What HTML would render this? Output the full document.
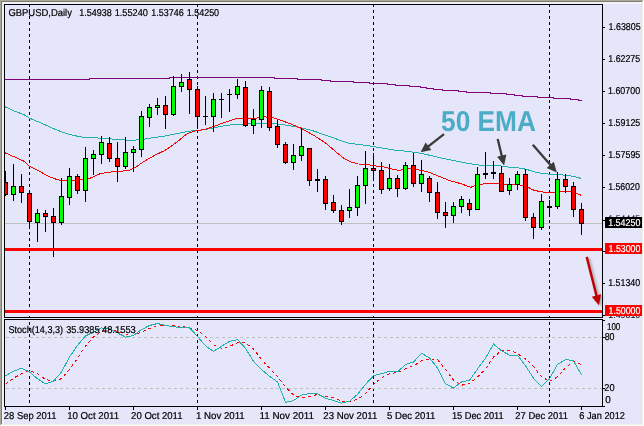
<!DOCTYPE html>
<html><head><meta charset="utf-8"><title>GBPUSD Daily</title>
<style>html,body{margin:0;padding:0;background:#e6e6fa;}body{width:644px;height:426px;overflow:hidden;position:relative;font-family:"Liberation Sans",sans-serif;}</style></head>
<body>
<svg width="644" height="426" viewBox="0 0 644 426" style="position:absolute;left:0;top:0;will-change:transform">
<rect x="0" y="0" width="644" height="426" fill="#e6e6fa"/>
<g shape-rendering="crispEdges">
<rect x="2" y="2" width="640" height="2" fill="#f2f2fd"/>
<rect x="2" y="2" width="2" height="422" fill="#f2f2fd"/>
<rect x="0" y="0" width="644" height="1" fill="#aca899"/>
<rect x="0" y="1" width="643" height="1" fill="#7d7b69"/>
<rect x="0" y="0" width="1" height="425" fill="#aca899"/>
<rect x="1" y="1" width="1" height="423" fill="#7d7b69"/>
<rect x="642" y="1" width="1" height="424" fill="#f1efe2"/>
<rect x="643" y="0" width="1" height="426" fill="#ffffff"/>
<rect x="1" y="424" width="642" height="1" fill="#f1efe2"/>
<rect x="0" y="425" width="644" height="1" fill="#ffffff"/>
<rect x="4.5" y="4.5" width="598" height="313" fill="none" stroke="#000" stroke-width="1"/>
<rect x="4.5" y="319.5" width="598" height="87" fill="none" stroke="#000" stroke-width="1"/>
<rect x="603" y="27" width="2" height="1" fill="#000"/>
<rect x="603" y="59" width="2" height="1" fill="#000"/>
<rect x="603" y="91" width="2" height="1" fill="#000"/>
<rect x="603" y="123" width="2" height="1" fill="#000"/>
<rect x="603" y="155" width="2" height="1" fill="#000"/>
<rect x="603" y="187" width="2" height="1" fill="#000"/>
<rect x="603" y="220" width="2" height="1" fill="#000"/>
<rect x="603" y="251" width="2" height="1" fill="#000"/>
<rect x="603" y="283" width="2" height="1" fill="#000"/>
<rect x="603" y="315" width="2" height="1" fill="#000"/>
<rect x="603" y="320" width="2" height="1" fill="#000"/>
<rect x="603" y="337" width="2" height="1" fill="#000"/>
<rect x="603" y="388" width="2" height="1" fill="#000"/>
<rect x="603" y="406" width="2" height="1" fill="#000"/>
<rect x="5" y="407" width="1" height="3" fill="#000"/>
<rect x="69" y="407" width="1" height="3" fill="#000"/>
<rect x="133" y="407" width="1" height="3" fill="#000"/>
<rect x="197" y="407" width="1" height="3" fill="#000"/>
<rect x="261" y="407" width="1" height="3" fill="#000"/>
<rect x="325" y="407" width="1" height="3" fill="#000"/>
<rect x="389" y="407" width="1" height="3" fill="#000"/>
<rect x="453" y="407" width="1" height="3" fill="#000"/>
<rect x="517" y="407" width="1" height="3" fill="#000"/>
<rect x="581" y="407" width="1" height="3" fill="#000"/>
<line x1="29.5" y1="5" x2="29.5" y2="317" stroke="#000" stroke-width="1" stroke-dasharray="3,3" stroke-dashoffset="1"/>
<line x1="29.5" y1="320" x2="29.5" y2="406" stroke="#000" stroke-width="1" stroke-dasharray="3,3" stroke-dashoffset="4"/>
<line x1="197.5" y1="5" x2="197.5" y2="317" stroke="#000" stroke-width="1" stroke-dasharray="3,3" stroke-dashoffset="1"/>
<line x1="197.5" y1="320" x2="197.5" y2="406" stroke="#000" stroke-width="1" stroke-dasharray="3,3" stroke-dashoffset="4"/>
<line x1="373.5" y1="5" x2="373.5" y2="317" stroke="#000" stroke-width="1" stroke-dasharray="3,3" stroke-dashoffset="1"/>
<line x1="373.5" y1="320" x2="373.5" y2="406" stroke="#000" stroke-width="1" stroke-dasharray="3,3" stroke-dashoffset="4"/>
<line x1="549.5" y1="5" x2="549.5" y2="317" stroke="#000" stroke-width="1" stroke-dasharray="3,3" stroke-dashoffset="1"/>
<line x1="549.5" y1="320" x2="549.5" y2="406" stroke="#000" stroke-width="1" stroke-dasharray="3,3" stroke-dashoffset="4"/>
<line x1="5" y1="337.5" x2="602" y2="337.5" stroke="#c0c0c0" stroke-width="1" stroke-dasharray="3,3" stroke-dashoffset="5"/>
<line x1="5" y1="388.5" x2="602" y2="388.5" stroke="#c0c0c0" stroke-width="1" stroke-dasharray="3,3" stroke-dashoffset="5"/>
<rect x="5" y="223" width="597" height="1" fill="#c0c0c0"/>
</g>
<g shape-rendering="crispEdges">
<polyline points="5.0,79.5 89.0,79.5 89.0,78.5 169.0,78.5 169.0,77.5 274.0,77.5 274.0,78.5 297.0,78.5 297.0,79.5 321.0,79.5 321.0,80.5 330.0,80.5 330.0,81.5 353.0,81.5 353.0,82.5 369.0,82.5 369.0,83.5 387.0,83.5 387.0,84.5 395.0,84.5 395.0,85.5 409.0,85.5 409.0,86.5 420.0,86.5 420.0,87.5 426.0,87.5 426.0,88.5 433.0,88.5 433.0,89.5 442.0,89.5 442.0,90.5 458.0,90.5 458.0,91.5 466.0,91.5 466.0,92.5 490.0,92.5 490.0,93.5 506.0,93.5 506.0,94.5 514.0,94.5 514.0,95.5 522.0,95.5 522.0,96.5 537.0,96.5 537.0,97.5 553.0,97.5 553.0,98.5 570.0,98.5 570.0,99.5 578.0,99.5 578.0,100.5 582.0,100.5" fill="none" stroke="#800080" stroke-width="1" />
<polyline points="5.3,106.9 14.3,111.1 23.8,114.6 29.6,118.2 37.9,121.7 47.2,125.7 56.6,129.9 66.0,133.4 75.3,135.8 85.3,137.5 100.3,138.1 115.3,139.3 130.3,140.3 140.3,139.8 150.3,138.1 164.8,136.1 177.3,133.6 189.7,131.1 200.3,130.3 212.0,128.2 223.8,125.8 235.5,124.2 247.3,123.9 259.0,123.5 270.7,123.5 280.1,124.2 289.5,125.8 300.3,127.5 313.8,131.1 325.5,135.1 337.3,139.3 349.0,143.3 360.7,144.7 372.5,146.4 384.2,148.3 392.0,149.8 403.8,151.0 415.5,152.4 427.3,154.7 439.0,157.6 450.7,159.9 462.5,162.3 474.2,164.4 480.3,165.2 489.1,165.7 498.5,165.7 507.9,167.0 517.2,167.6 526.6,169.4 536.0,172.3 545.4,173.8 554.8,174.5 564.2,175.1 573.6,176.4 581.3,178.5" fill="none" stroke="#20b2aa" stroke-width="1" />
<polyline points="5.3,152.9 14.4,156.9 23.8,161.1 29.6,166.3 37.9,170.3 47.2,175.7 54.3,178.7 61.3,180.6 68.3,180.6 80.2,180.0 90.2,178.2 100.1,173.7 110.1,172.1 120.0,171.4 130.0,170.1 134.9,167.7 144.9,160.9 154.8,155.2 164.8,150.5 172.3,145.5 179.7,139.8 187.2,133.6 194.6,131.1 204.6,129.4 212.0,127.0 223.8,122.8 235.5,118.8 243.7,118.1 256.6,118.1 264.9,116.9 273.1,117.6 280.1,120.0 289.5,123.5 300.3,127.9 313.8,135.4 325.5,142.9 337.3,153.0 344.3,158.6 351.3,162.1 358.4,164.0 367.8,164.5 374.8,165.9 384.2,167.0 389.7,168.6 399.1,170.5 406.1,168.6 415.5,169.3 427.3,171.6 439.0,176.3 450.7,181.0 460.1,183.4 470.7,187.3 475.9,185.4 481.6,184.1 489.1,183.5 498.5,183.9 507.9,184.5 517.2,184.5 526.6,186.3 532.3,189.7 539.8,191.6 549.2,192.9 554.8,192.0 564.2,191.0 571.7,191.6 577.3,193.5 581.3,195.4" fill="none" stroke="#ff0000" stroke-width="1" />
</g>
<g shape-rendering="crispEdges">
<clipPath id="cp"><rect x="5" y="5" width="597" height="312"/></clipPath>
<g clip-path="url(#cp)">
<rect x="5" y="171" width="1" height="25" fill="#000"/>
<rect x="3" y="182" width="5" height="13" fill="#000"/>
<rect x="4" y="183" width="3" height="11" fill="#ff0000"/>
<rect x="13" y="164" width="1" height="37" fill="#000"/>
<rect x="11" y="186" width="5" height="9" fill="#000"/>
<rect x="12" y="187" width="3" height="7" fill="#00ff00"/>
<rect x="21" y="174" width="1" height="29" fill="#000"/>
<rect x="19" y="186" width="5" height="7" fill="#000"/>
<rect x="20" y="187" width="3" height="5" fill="#ff0000"/>
<rect x="29" y="190" width="1" height="39" fill="#000"/>
<rect x="27" y="193" width="5" height="29" fill="#000"/>
<rect x="28" y="194" width="3" height="27" fill="#ff0000"/>
<rect x="37" y="209" width="1" height="33" fill="#000"/>
<rect x="35" y="213" width="5" height="10" fill="#000"/>
<rect x="36" y="214" width="3" height="8" fill="#00ff00"/>
<rect x="45" y="210" width="1" height="22" fill="#000"/>
<rect x="43" y="213" width="5" height="4" fill="#000"/>
<rect x="44" y="214" width="3" height="2" fill="#ff0000"/>
<rect x="53" y="208" width="1" height="49" fill="#000"/>
<rect x="51" y="216" width="5" height="7" fill="#000"/>
<rect x="52" y="217" width="3" height="5" fill="#ff0000"/>
<rect x="61" y="178" width="1" height="47" fill="#000"/>
<rect x="59" y="196" width="5" height="27" fill="#000"/>
<rect x="60" y="197" width="3" height="25" fill="#00ff00"/>
<rect x="69" y="168" width="1" height="37" fill="#000"/>
<rect x="67" y="176" width="5" height="22" fill="#000"/>
<rect x="68" y="177" width="3" height="20" fill="#00ff00"/>
<rect x="77" y="174" width="1" height="20" fill="#000"/>
<rect x="75" y="176" width="5" height="15" fill="#000"/>
<rect x="76" y="177" width="3" height="13" fill="#ff0000"/>
<rect x="85" y="147" width="1" height="55" fill="#000"/>
<rect x="83" y="158" width="5" height="33" fill="#000"/>
<rect x="84" y="159" width="3" height="31" fill="#00ff00"/>
<rect x="93" y="150" width="1" height="25" fill="#000"/>
<rect x="91" y="154" width="5" height="5" fill="#000"/>
<rect x="92" y="155" width="3" height="3" fill="#00ff00"/>
<rect x="101" y="136" width="1" height="28" fill="#000"/>
<rect x="99" y="142" width="5" height="13" fill="#000"/>
<rect x="100" y="143" width="3" height="11" fill="#00ff00"/>
<rect x="109" y="137" width="1" height="25" fill="#000"/>
<rect x="107" y="143" width="5" height="16" fill="#000"/>
<rect x="108" y="144" width="3" height="14" fill="#ff0000"/>
<rect x="117" y="142" width="1" height="40" fill="#000"/>
<rect x="115" y="158" width="5" height="9" fill="#000"/>
<rect x="116" y="159" width="3" height="7" fill="#ff0000"/>
<rect x="125" y="137" width="1" height="32" fill="#000"/>
<rect x="123" y="152" width="5" height="15" fill="#000"/>
<rect x="124" y="153" width="3" height="13" fill="#00ff00"/>
<rect x="133" y="146" width="1" height="26" fill="#000"/>
<rect x="131" y="149" width="5" height="4" fill="#000"/>
<rect x="132" y="150" width="3" height="2" fill="#00ff00"/>
<rect x="141" y="111" width="1" height="46" fill="#000"/>
<rect x="139" y="116" width="5" height="34" fill="#000"/>
<rect x="140" y="117" width="3" height="32" fill="#00ff00"/>
<rect x="149" y="104" width="1" height="23" fill="#000"/>
<rect x="147" y="107" width="5" height="11" fill="#000"/>
<rect x="148" y="108" width="3" height="9" fill="#00ff00"/>
<rect x="157" y="98" width="1" height="17" fill="#000"/>
<rect x="155" y="105" width="5" height="3" fill="#000"/>
<rect x="156" y="106" width="3" height="1" fill="#00ff00"/>
<rect x="165" y="96" width="1" height="33" fill="#000"/>
<rect x="163" y="105" width="5" height="10" fill="#000"/>
<rect x="164" y="106" width="3" height="8" fill="#ff0000"/>
<rect x="173" y="76" width="1" height="40" fill="#000"/>
<rect x="171" y="86" width="5" height="29" fill="#000"/>
<rect x="172" y="87" width="3" height="27" fill="#00ff00"/>
<rect x="181" y="74" width="1" height="18" fill="#000"/>
<rect x="179" y="82" width="5" height="5" fill="#000"/>
<rect x="180" y="83" width="3" height="3" fill="#00ff00"/>
<rect x="189" y="72" width="1" height="42" fill="#000"/>
<rect x="187" y="79" width="5" height="11" fill="#000"/>
<rect x="188" y="80" width="3" height="9" fill="#ff0000"/>
<rect x="197" y="86" width="1" height="43" fill="#000"/>
<rect x="195" y="89" width="5" height="28" fill="#000"/>
<rect x="196" y="90" width="3" height="26" fill="#ff0000"/>
<rect x="205" y="96" width="1" height="29" fill="#000"/>
<rect x="203" y="116" width="5" height="1" fill="#000"/>
<rect x="213" y="93" width="1" height="39" fill="#000"/>
<rect x="211" y="99" width="5" height="18" fill="#000"/>
<rect x="212" y="100" width="3" height="16" fill="#00ff00"/>
<rect x="221" y="93" width="1" height="25" fill="#000"/>
<rect x="219" y="99" width="5" height="1" fill="#000"/>
<rect x="229" y="89" width="1" height="23" fill="#000"/>
<rect x="227" y="94" width="5" height="1" fill="#000"/>
<rect x="237" y="79" width="1" height="20" fill="#000"/>
<rect x="235" y="86" width="5" height="9" fill="#000"/>
<rect x="236" y="87" width="3" height="7" fill="#00ff00"/>
<rect x="245" y="81" width="1" height="46" fill="#000"/>
<rect x="243" y="87" width="5" height="39" fill="#000"/>
<rect x="244" y="88" width="3" height="37" fill="#ff0000"/>
<rect x="253" y="109" width="1" height="25" fill="#000"/>
<rect x="251" y="119" width="5" height="7" fill="#000"/>
<rect x="252" y="120" width="3" height="5" fill="#00ff00"/>
<rect x="261" y="86" width="1" height="42" fill="#000"/>
<rect x="259" y="90" width="5" height="30" fill="#000"/>
<rect x="260" y="91" width="3" height="28" fill="#00ff00"/>
<rect x="269" y="87" width="1" height="44" fill="#000"/>
<rect x="267" y="91" width="5" height="37" fill="#000"/>
<rect x="268" y="92" width="3" height="35" fill="#ff0000"/>
<rect x="277" y="120" width="1" height="28" fill="#000"/>
<rect x="275" y="126" width="5" height="19" fill="#000"/>
<rect x="276" y="127" width="3" height="17" fill="#ff0000"/>
<rect x="285" y="142" width="1" height="22" fill="#000"/>
<rect x="283" y="144" width="5" height="19" fill="#000"/>
<rect x="284" y="145" width="3" height="17" fill="#ff0000"/>
<rect x="293" y="144" width="1" height="26" fill="#000"/>
<rect x="291" y="155" width="5" height="8" fill="#000"/>
<rect x="292" y="156" width="3" height="6" fill="#00ff00"/>
<rect x="301" y="128" width="1" height="33" fill="#000"/>
<rect x="299" y="146" width="5" height="10" fill="#000"/>
<rect x="300" y="147" width="3" height="8" fill="#00ff00"/>
<rect x="309" y="148" width="1" height="38" fill="#000"/>
<rect x="307" y="148" width="5" height="33" fill="#000"/>
<rect x="308" y="149" width="3" height="31" fill="#ff0000"/>
<rect x="317" y="169" width="1" height="23" fill="#000"/>
<rect x="315" y="179" width="5" height="2" fill="#000"/>
<rect x="325" y="176" width="1" height="34" fill="#000"/>
<rect x="323" y="179" width="5" height="25" fill="#000"/>
<rect x="324" y="180" width="3" height="23" fill="#ff0000"/>
<rect x="333" y="195" width="1" height="18" fill="#000"/>
<rect x="331" y="202" width="5" height="9" fill="#000"/>
<rect x="332" y="203" width="3" height="7" fill="#ff0000"/>
<rect x="341" y="205" width="1" height="20" fill="#000"/>
<rect x="339" y="210" width="5" height="12" fill="#000"/>
<rect x="340" y="211" width="3" height="10" fill="#ff0000"/>
<rect x="349" y="189" width="1" height="29" fill="#000"/>
<rect x="347" y="207" width="5" height="4" fill="#000"/>
<rect x="348" y="208" width="3" height="2" fill="#00ff00"/>
<rect x="357" y="176" width="1" height="40" fill="#000"/>
<rect x="355" y="185" width="5" height="23" fill="#000"/>
<rect x="356" y="186" width="3" height="21" fill="#00ff00"/>
<rect x="365" y="151" width="1" height="53" fill="#000"/>
<rect x="363" y="168" width="5" height="18" fill="#000"/>
<rect x="364" y="169" width="3" height="16" fill="#00ff00"/>
<rect x="373" y="153" width="1" height="28" fill="#000"/>
<rect x="371" y="168" width="5" height="3" fill="#000"/>
<rect x="372" y="169" width="3" height="1" fill="#ff0000"/>
<rect x="381" y="162" width="1" height="32" fill="#000"/>
<rect x="379" y="170" width="5" height="20" fill="#000"/>
<rect x="380" y="171" width="3" height="18" fill="#ff0000"/>
<rect x="389" y="164" width="1" height="27" fill="#000"/>
<rect x="387" y="178" width="5" height="11" fill="#000"/>
<rect x="388" y="179" width="3" height="9" fill="#00ff00"/>
<rect x="397" y="175" width="1" height="22" fill="#000"/>
<rect x="395" y="178" width="5" height="11" fill="#000"/>
<rect x="396" y="179" width="3" height="9" fill="#ff0000"/>
<rect x="405" y="162" width="1" height="28" fill="#000"/>
<rect x="403" y="165" width="5" height="24" fill="#000"/>
<rect x="404" y="166" width="3" height="22" fill="#00ff00"/>
<rect x="413" y="153" width="1" height="34" fill="#000"/>
<rect x="411" y="165" width="5" height="19" fill="#000"/>
<rect x="412" y="166" width="3" height="17" fill="#ff0000"/>
<rect x="421" y="160" width="1" height="32" fill="#000"/>
<rect x="419" y="174" width="5" height="10" fill="#000"/>
<rect x="420" y="175" width="3" height="8" fill="#00ff00"/>
<rect x="429" y="176" width="1" height="26" fill="#000"/>
<rect x="427" y="178" width="5" height="15" fill="#000"/>
<rect x="428" y="179" width="3" height="13" fill="#ff0000"/>
<rect x="437" y="182" width="1" height="37" fill="#000"/>
<rect x="435" y="192" width="5" height="21" fill="#000"/>
<rect x="436" y="193" width="3" height="19" fill="#ff0000"/>
<rect x="445" y="202" width="1" height="26" fill="#000"/>
<rect x="443" y="212" width="5" height="4" fill="#000"/>
<rect x="444" y="213" width="3" height="2" fill="#ff0000"/>
<rect x="453" y="202" width="1" height="21" fill="#000"/>
<rect x="451" y="206" width="5" height="10" fill="#000"/>
<rect x="452" y="207" width="3" height="8" fill="#00ff00"/>
<rect x="461" y="196" width="1" height="17" fill="#000"/>
<rect x="459" y="199" width="5" height="8" fill="#000"/>
<rect x="460" y="200" width="3" height="6" fill="#00ff00"/>
<rect x="469" y="199" width="1" height="17" fill="#000"/>
<rect x="467" y="203" width="5" height="7" fill="#000"/>
<rect x="468" y="204" width="3" height="5" fill="#ff0000"/>
<rect x="477" y="167" width="1" height="43" fill="#000"/>
<rect x="475" y="174" width="5" height="36" fill="#000"/>
<rect x="476" y="175" width="3" height="34" fill="#00ff00"/>
<rect x="485" y="152" width="1" height="27" fill="#000"/>
<rect x="483" y="173" width="5" height="2" fill="#000"/>
<rect x="493" y="161" width="1" height="18" fill="#000"/>
<rect x="491" y="172" width="5" height="2" fill="#000"/>
<rect x="501" y="166" width="1" height="26" fill="#000"/>
<rect x="499" y="173" width="5" height="19" fill="#000"/>
<rect x="500" y="174" width="3" height="17" fill="#ff0000"/>
<rect x="509" y="178" width="1" height="17" fill="#000"/>
<rect x="507" y="184" width="5" height="7" fill="#000"/>
<rect x="508" y="185" width="3" height="5" fill="#00ff00"/>
<rect x="517" y="171" width="1" height="19" fill="#000"/>
<rect x="515" y="174" width="5" height="11" fill="#000"/>
<rect x="516" y="175" width="3" height="9" fill="#00ff00"/>
<rect x="525" y="169" width="1" height="52" fill="#000"/>
<rect x="523" y="174" width="5" height="44" fill="#000"/>
<rect x="524" y="175" width="3" height="42" fill="#ff0000"/>
<rect x="533" y="213" width="1" height="26" fill="#000"/>
<rect x="531" y="217" width="5" height="11" fill="#000"/>
<rect x="532" y="218" width="3" height="9" fill="#ff0000"/>
<rect x="541" y="194" width="1" height="36" fill="#000"/>
<rect x="539" y="201" width="5" height="27" fill="#000"/>
<rect x="540" y="202" width="3" height="25" fill="#00ff00"/>
<rect x="549" y="200" width="1" height="17" fill="#000"/>
<rect x="547" y="206" width="5" height="2" fill="#000"/>
<rect x="557" y="172" width="1" height="37" fill="#000"/>
<rect x="555" y="179" width="5" height="28" fill="#000"/>
<rect x="556" y="180" width="3" height="26" fill="#00ff00"/>
<rect x="565" y="174" width="1" height="19" fill="#000"/>
<rect x="563" y="179" width="5" height="8" fill="#000"/>
<rect x="564" y="180" width="3" height="6" fill="#ff0000"/>
<rect x="573" y="182" width="1" height="35" fill="#000"/>
<rect x="571" y="186" width="5" height="24" fill="#000"/>
<rect x="572" y="187" width="3" height="22" fill="#ff0000"/>
<rect x="581" y="203" width="1" height="32" fill="#000"/>
<rect x="579" y="209" width="5" height="15" fill="#000"/>
<rect x="580" y="210" width="3" height="13" fill="#ff0000"/>
</g>
<rect x="5" y="248" width="597" height="3" fill="#ff0000"/>
<rect x="5" y="310" width="597" height="3" fill="#ff0000"/>
</g>
<g shape-rendering="crispEdges">
<polyline points="5.5,384.4 13.5,378.2 21.5,373.7 29.5,370.7 37.5,373.7 45.5,379.4 53.5,381.2 61.5,378.7 69.5,369.5 77.5,358.3 85.5,345.9 93.5,337.1 101.5,331.4 109.5,329.7 117.5,331.4 125.5,333.9 133.5,335.2 141.5,332.2 149.5,328.4 157.5,325.5 165.5,325.2 173.5,325.5 181.5,326.4 189.5,327.7 197.5,330.4 205.5,336.4 213.5,344.6 221.5,348.3 229.5,346.3 237.5,342.9 245.5,342.9 253.5,349.1 261.5,359.5 269.5,368.2 277.5,376.4 285.5,386.9 293.5,395.1 301.5,398.1 309.5,396.8 317.5,394.4 325.5,396.3 333.5,397.6 341.5,401.1 349.5,401.8 357.5,399.3 365.5,393.6 373.5,384.4 381.5,377.7 389.5,373.7 397.5,372.5 405.5,368.7 413.5,365.8 421.5,360.8 429.5,358.8 437.5,359.5 445.5,369.5 453.5,380.2 461.5,385.2 469.5,383.7 477.5,376.9 485.5,369.0 493.5,357.0 501.5,350.8 509.5,350.1 517.5,353.8 525.5,358.8 533.5,366.5 541.5,376.9 549.5,381.2 557.5,376.9 565.5,367.7 573.5,361.5 581.5,364.5" fill="none" stroke="#ff0000" stroke-width="1" stroke-dasharray="3,3"/>
<polyline points="5.5,375.7 13.5,371.2 21.5,368.2 29.5,372.0 37.5,378.7 45.5,383.9 53.5,381.2 61.5,372.0 69.5,357.0 77.5,345.4 85.5,335.9 93.5,332.2 101.5,327.9 109.5,328.9 117.5,332.9 125.5,337.1 133.5,335.4 141.5,329.7 149.5,325.5 157.5,323.5 165.5,325.5 173.5,326.7 181.5,327.7 189.5,327.9 197.5,336.4 205.5,345.9 213.5,351.3 221.5,346.3 229.5,341.4 237.5,339.6 245.5,348.3 253.5,361.3 261.5,369.5 269.5,376.4 277.5,381.9 285.5,402.3 293.5,400.6 301.5,395.1 309.5,393.5 317.5,393.9 325.5,398.1 333.5,400.6 341.5,403.1 349.5,401.3 357.5,394.4 365.5,384.4 373.5,375.7 381.5,373.7 389.5,371.2 397.5,372.0 405.5,364.5 413.5,362.0 421.5,353.3 429.5,357.8 437.5,368.2 445.5,383.7 453.5,388.1 461.5,381.9 469.5,380.2 477.5,369.0 485.5,358.3 493.5,344.1 501.5,350.8 509.5,355.1 517.5,355.3 525.5,365.8 533.5,378.2 541.5,386.4 549.5,378.9 557.5,364.5 565.5,359.5 573.5,360.8 581.5,375.0" fill="none" stroke="#20b2aa" stroke-width="1" />
</g>
<line x1="444.0" y1="134.1" x2="427.7" y2="146.8" stroke="#3a3a3a" stroke-width="2.3"/><polygon points="420.6,152.3 425.6,142.4 431.4,149.9" fill="#3a3a3a"/>
<line x1="497.7" y1="139.0" x2="502.0" y2="156.7" stroke="#3a3a3a" stroke-width="2.3"/><polygon points="504.1,165.4 497.1,156.8 506.4,154.6" fill="#3a3a3a"/>
<line x1="532.8" y1="144.7" x2="550.9" y2="165.6" stroke="#3a3a3a" stroke-width="2.3"/><polygon points="556.8,172.4 546.7,168.0 553.8,161.7" fill="#3a3a3a"/>
<filter id="blr" x="570" y="240" width="50" height="80" filterUnits="userSpaceOnUse"><feGaussianBlur stdDeviation="0.9"/></filter>
<g opacity="0.38" filter="url(#blr)" transform="translate(1.8,1.2)"><line x1="586.7" y1="256.9" x2="596.7" y2="296.5" stroke="#505050" stroke-width="3"/><polygon points="598.9,305.2 591.6,296.7 601.3,294.3" fill="#505050"/></g>
<line x1="586.7" y1="256.9" x2="596.7" y2="296.5" stroke="#c00000" stroke-width="2.4"/><polygon points="598.9,305.2 591.8,296.7 601.1,294.3" fill="#c00000"/>
<g shape-rendering="crispEdges">
<rect x="605" y="217" width="37" height="11" fill="#000"/>
<rect x="605" y="243" width="37" height="11" fill="#ff0000"/>
<rect x="605" y="305" width="37" height="11" fill="#ff0000"/>
</g>
<filter id="idf" x="0" y="0" width="644" height="426" filterUnits="userSpaceOnUse"><feOffset dx="0" dy="0"/></filter>
<g id="txt" filter="url(#idf)">
<text id="t0" text-rendering="geometricPrecision" x="8.41" y="16" font-family="Liberation Sans, sans-serif" font-size="10" fill="#000" stroke="#000" stroke-width="0.22" textLength="63.54" lengthAdjust="spacingAndGlyphs" xml:space="preserve">GBPUSD,Daily</text>
<text id="t1" text-rendering="geometricPrecision" x="79.21" y="16" font-family="Liberation Sans, sans-serif" font-size="10" fill="#000" stroke="#000" stroke-width="0.22" textLength="32.62" lengthAdjust="spacingAndGlyphs" xml:space="preserve">1.54938</text>
<text id="t2" text-rendering="geometricPrecision" x="114.67" y="16" font-family="Liberation Sans, sans-serif" font-size="10" fill="#000" stroke="#000" stroke-width="0.22" textLength="33.19" lengthAdjust="spacingAndGlyphs" xml:space="preserve">1.55240</text>
<text id="t3" text-rendering="geometricPrecision" x="151.32" y="16" font-family="Liberation Sans, sans-serif" font-size="10" fill="#000" stroke="#000" stroke-width="0.22" textLength="32.41" lengthAdjust="spacingAndGlyphs" xml:space="preserve">1.53746</text>
<text id="t4" text-rendering="geometricPrecision" x="186.79" y="16" font-family="Liberation Sans, sans-serif" font-size="10" fill="#000" stroke="#000" stroke-width="0.22" textLength="32.30" lengthAdjust="spacingAndGlyphs" xml:space="preserve">1.54250</text>
<text id="s0" text-rendering="geometricPrecision" x="8.42" y="333" font-family="Liberation Sans, sans-serif" font-size="10" fill="#000" stroke="#000" stroke-width="0.22" textLength="54.71" lengthAdjust="spacingAndGlyphs" xml:space="preserve">Stoch(14,3,3)</text>
<text id="s1" text-rendering="geometricPrecision" x="66.19" y="333" font-family="Liberation Sans, sans-serif" font-size="10" fill="#000" stroke="#000" stroke-width="0.22" textLength="33.33" lengthAdjust="spacingAndGlyphs" xml:space="preserve">35.9385</text>
<text id="s2" text-rendering="geometricPrecision" x="101.93" y="333" font-family="Liberation Sans, sans-serif" font-size="10" fill="#000" stroke="#000" stroke-width="0.22" textLength="33.92" lengthAdjust="spacingAndGlyphs" xml:space="preserve">48.1553</text>
<text id="p0" text-rendering="geometricPrecision" x="608.60" y="30" font-family="Liberation Sans, sans-serif" font-size="10" fill="#000" stroke="#000" stroke-width="0.22" textLength="31.99" lengthAdjust="spacingAndGlyphs" xml:space="preserve">1.63805</text>
<text id="p1" text-rendering="geometricPrecision" x="608.31" y="62" font-family="Liberation Sans, sans-serif" font-size="10" fill="#000" stroke="#000" stroke-width="0.22" textLength="31.82" lengthAdjust="spacingAndGlyphs" xml:space="preserve">1.62275</text>
<text id="p2" text-rendering="geometricPrecision" x="608.03" y="94" font-family="Liberation Sans, sans-serif" font-size="10" fill="#000" stroke="#000" stroke-width="0.22" textLength="32.05" lengthAdjust="spacingAndGlyphs" xml:space="preserve">1.60700</text>
<text id="p3" text-rendering="geometricPrecision" x="608.23" y="126" font-family="Liberation Sans, sans-serif" font-size="10" fill="#000" stroke="#000" stroke-width="0.22" textLength="32.10" lengthAdjust="spacingAndGlyphs" xml:space="preserve">1.59125</text>
<text id="p4" text-rendering="geometricPrecision" x="608.20" y="158" font-family="Liberation Sans, sans-serif" font-size="10" fill="#000" stroke="#000" stroke-width="0.22" textLength="32.08" lengthAdjust="spacingAndGlyphs" xml:space="preserve">1.57595</text>
<text id="p5" text-rendering="geometricPrecision" x="608.13" y="190" font-family="Liberation Sans, sans-serif" font-size="10" fill="#000" stroke="#000" stroke-width="0.22" textLength="31.72" lengthAdjust="spacingAndGlyphs" xml:space="preserve">1.56020</text>
<text id="p6" text-rendering="geometricPrecision" x="608.17" y="286" font-family="Liberation Sans, sans-serif" font-size="10" fill="#000" stroke="#000" stroke-width="0.22" textLength="32.07" lengthAdjust="spacingAndGlyphs" xml:space="preserve">1.51340</text>
<text id="b0" text-rendering="geometricPrecision" x="608.19" y="226" font-family="Liberation Sans, sans-serif" font-size="10" fill="#fff" stroke="#fff" stroke-width="0.22" textLength="32.16" lengthAdjust="spacingAndGlyphs" xml:space="preserve">1.54250</text>
<text id="b1" text-rendering="geometricPrecision" x="608.62" y="252" font-family="Liberation Sans, sans-serif" font-size="10" fill="#fff" stroke="#fff" stroke-width="0.22" textLength="31.75" lengthAdjust="spacingAndGlyphs" xml:space="preserve">1.53000</text>
<text id="b2" text-rendering="geometricPrecision" x="608.56" y="314" font-family="Liberation Sans, sans-serif" font-size="10" fill="#fff" stroke="#fff" stroke-width="0.22" textLength="31.79" lengthAdjust="spacingAndGlyphs" xml:space="preserve">1.50000</text>
<text id="l0" text-rendering="geometricPrecision" x="606.96" y="330" font-family="Liberation Sans, sans-serif" font-size="10" fill="#000" stroke="#000" stroke-width="0.22" textLength="13.32" lengthAdjust="spacingAndGlyphs" xml:space="preserve">100</text>
<text id="l1" text-rendering="geometricPrecision" x="604.66" y="340" font-family="Liberation Sans, sans-serif" font-size="10" fill="#000" stroke="#000" stroke-width="0.22" textLength="9.86" lengthAdjust="spacingAndGlyphs" xml:space="preserve">80</text>
<text id="l2" text-rendering="geometricPrecision" x="604.33" y="391" font-family="Liberation Sans, sans-serif" font-size="10" fill="#000" stroke="#000" stroke-width="0.22" textLength="10.32" lengthAdjust="spacingAndGlyphs" xml:space="preserve">20</text>
<text id="l3" text-rendering="geometricPrecision" x="605.26" y="403" font-family="Liberation Sans, sans-serif" font-size="10" fill="#000" stroke="#000" stroke-width="0.22" textLength="5.53" lengthAdjust="spacingAndGlyphs" xml:space="preserve">0</text>
<text id="d0" text-rendering="geometricPrecision" x="3.83" y="419" font-family="Liberation Sans, sans-serif" font-size="10" fill="#000" stroke="#000" stroke-width="0.22" textLength="52.72" lengthAdjust="spacingAndGlyphs" xml:space="preserve">28 Sep 2011</text>
<text id="d1" text-rendering="geometricPrecision" x="67.14" y="419" font-family="Liberation Sans, sans-serif" font-size="10" fill="#000" stroke="#000" stroke-width="0.22" textLength="51.94" lengthAdjust="spacingAndGlyphs" xml:space="preserve">10 Oct 2011</text>
<text id="d2" text-rendering="geometricPrecision" x="131.10" y="419" font-family="Liberation Sans, sans-serif" font-size="10" fill="#000" stroke="#000" stroke-width="0.22" textLength="51.48" lengthAdjust="spacingAndGlyphs" xml:space="preserve">20 Oct 2011</text>
<text id="d3" text-rendering="geometricPrecision" x="196.00" y="419" font-family="Liberation Sans, sans-serif" font-size="10" fill="#000" stroke="#000" stroke-width="0.22" textLength="48.74" lengthAdjust="spacingAndGlyphs" xml:space="preserve">1 Nov 2011</text>
<text id="d4" text-rendering="geometricPrecision" x="259.49" y="419" font-family="Liberation Sans, sans-serif" font-size="10" fill="#000" stroke="#000" stroke-width="0.22" textLength="54.39" lengthAdjust="spacingAndGlyphs" xml:space="preserve">11 Nov 2011</text>
<text id="d5" text-rendering="geometricPrecision" x="323.36" y="419" font-family="Liberation Sans, sans-serif" font-size="10" fill="#000" stroke="#000" stroke-width="0.22" textLength="53.94" lengthAdjust="spacingAndGlyphs" xml:space="preserve">23 Nov 2011</text>
<text id="d6" text-rendering="geometricPrecision" x="387.06" y="419" font-family="Liberation Sans, sans-serif" font-size="10" fill="#000" stroke="#000" stroke-width="0.22" textLength="48.32" lengthAdjust="spacingAndGlyphs" xml:space="preserve">5 Dec 2011</text>
<text id="d7" text-rendering="geometricPrecision" x="451.94" y="419" font-family="Liberation Sans, sans-serif" font-size="10" fill="#000" stroke="#000" stroke-width="0.22" textLength="51.75" lengthAdjust="spacingAndGlyphs" xml:space="preserve">15 Dec 2011</text>
<text id="d8" text-rendering="geometricPrecision" x="515.35" y="419" font-family="Liberation Sans, sans-serif" font-size="10" fill="#000" stroke="#000" stroke-width="0.22" textLength="52.54" lengthAdjust="spacingAndGlyphs" xml:space="preserve">27 Dec 2011</text>
<text id="d9" text-rendering="geometricPrecision" x="579.30" y="419" font-family="Liberation Sans, sans-serif" font-size="10" fill="#000" stroke="#000" stroke-width="0.22" textLength="45.61" lengthAdjust="spacingAndGlyphs" xml:space="preserve">6 Jan 2012</text>
</g>
<clipPath id="c1"><rect x="605" y="212" width="37" height="5"/></clipPath>
<g filter="url(#idf)"><g clip-path="url(#c1)"><text text-rendering="geometricPrecision" x="608.3" y="222" font-family="Liberation Sans, sans-serif" font-size="10" fill="#000" textLength="32" lengthAdjust="spacingAndGlyphs" xml:space="preserve">1.54445</text></g></g>
<clipPath id="c2"><rect x="605" y="316" width="37" height="3"/></clipPath>
<g filter="url(#idf)"><g clip-path="url(#c2)"><text text-rendering="geometricPrecision" x="608.3" y="318" font-family="Liberation Sans, sans-serif" font-size="10" fill="#000" textLength="32" lengthAdjust="spacingAndGlyphs" xml:space="preserve">1.49810</text></g></g>
<g filter="url(#idf)"><text text-rendering="geometricPrecision" x="0" y="0" font-family="Liberation Sans, sans-serif" font-size="26.3" fill="#4bacc6" font-weight="bold" transform="translate(441.0,130.7) scale(1,1.09)" xml:space="preserve">50 EMA</text></g>
</svg>
</body></html>
